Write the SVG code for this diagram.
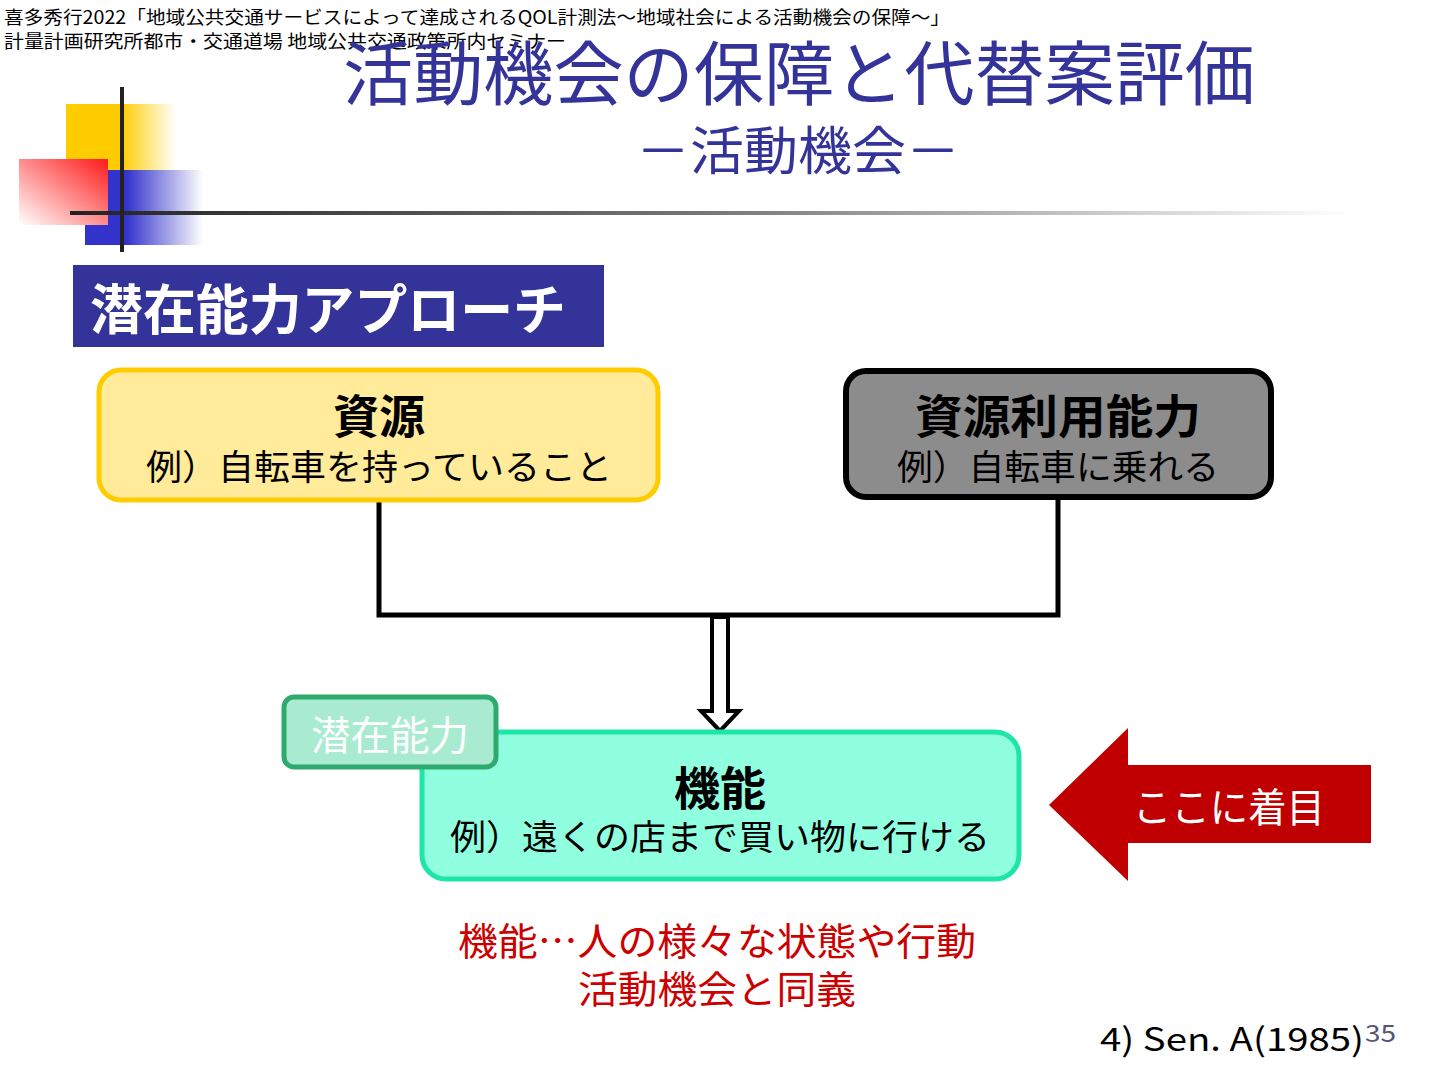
<svg xmlns="http://www.w3.org/2000/svg" width="1440" height="1080" viewBox="0 0 1440 1080">
<defs>
<style>
text{font-family:"Noto Sans CJK JP","Noto Sans",sans-serif}
.hdr{font-size:18px;fill:#000}
.title{fill:#333399}
.bold{font-weight:bold}
.sub{font-size:35px;fill:#000}
.red{font-size:38px;fill:#CC0000}
.conn{fill:none;stroke:#000;stroke-width:5}
</style>
<linearGradient id="gY" x1="0" y1="0" x2="1" y2="0"><stop offset="0.5" stop-color="#FFCC00"/><stop offset="1" stop-color="#FFCC00" stop-opacity="0"/></linearGradient>
<linearGradient id="gB" x1="0" y1="0" x2="1" y2="0"><stop offset="0.35" stop-color="#3333CC"/><stop offset="1" stop-color="#3333CC" stop-opacity="0"/></linearGradient>
<linearGradient id="gR" x1="1" y1="0" x2="0" y2="1"><stop offset="0" stop-color="#FF1A1A"/><stop offset="1" stop-color="#FFFFFF"/></linearGradient>
<linearGradient id="gL" x1="0" y1="0" x2="1" y2="0"><stop offset="0" stop-color="#222"/><stop offset="0.5" stop-color="#777"/><stop offset="1" stop-color="#fff"/></linearGradient>
</defs>
<rect width="1440" height="1080" fill="#fff"/>
<g id="header">
<text class="hdr" x="4" y="24" textLength="946" lengthAdjust="spacingAndGlyphs">喜多秀行2022「地域公共交通サービスによって達成されるQOL計測法～地域社会による活動機会の保障～」</text>
<text class="hdr" x="4" y="48" textLength="562" lengthAdjust="spacingAndGlyphs">計量計画研究所都市・交通道場 地域公共交通政策所内セミナー</text>
</g>
<g id="logo">
<rect x="66" y="104" width="110" height="66" fill="url(#gY)"/>
<rect x="85" y="170" width="118" height="75" fill="url(#gB)"/>
<rect x="19" y="159" width="89" height="66" fill="url(#gR)"/>
<rect x="70" y="211" width="1280" height="4" fill="url(#gL)"/>
<rect x="120" y="87" width="4" height="165" fill="#222"/>
</g>
<g id="title">
<text class="title" x="799" y="100" font-size="70" text-anchor="middle" textLength="912" lengthAdjust="spacingAndGlyphs">活動機会の保障と代替案評価</text>
<text class="title" x="798" y="170" font-size="52" text-anchor="middle" textLength="324" lengthAdjust="spacingAndGlyphs">－活動機会－</text>
</g>
<g id="section">
<rect x="73" y="265" width="531" height="82" fill="#333399"/>
<text x="90" y="330" font-size="54" fill="#fff" font-weight="bold" textLength="476" lengthAdjust="spacingAndGlyphs">潜在能力アプローチ</text>
</g>
<g id="connectors">
<polyline class="conn" points="379,501 379,615 1058,615 1058,498"/>
<polygon points="712,617 728,617 728,711 739,711 720,731 701,711 712,711" fill="#fff" stroke="#000" stroke-width="4"/>
</g>
<g id="node-resource">
<rect x="99" y="370" width="559" height="130" rx="22" fill="#FFEB99" stroke="#FFCC00" stroke-width="5"/>
<text x="379" y="433" font-size="46" text-anchor="middle" class="bold">資源</text>
<text class="sub" x="379" y="480" text-anchor="middle" textLength="466" lengthAdjust="spacingAndGlyphs">例）自転車を持っていること</text>
</g>
<g id="node-ability">
<rect x="846" y="371" width="425" height="126" rx="20" fill="#8C8C8C" stroke="#000" stroke-width="6"/>
<text x="1058" y="433" font-size="46" text-anchor="middle" class="bold" textLength="286" lengthAdjust="spacingAndGlyphs">資源利用能力</text>
<text class="sub" x="1058" y="480" text-anchor="middle" textLength="322" lengthAdjust="spacingAndGlyphs">例）自転車に乗れる</text>
</g>
<g id="node-function">
<rect x="422" y="732" width="597" height="147" rx="24" fill="#8FFFE0" stroke="#1EE6A8" stroke-width="5"/>
<text x="720" y="805" font-size="46" text-anchor="middle" class="bold">機能</text>
<text class="sub" x="720" y="850" text-anchor="middle" textLength="540" lengthAdjust="spacingAndGlyphs">例）遠くの店まで買い物に行ける</text>
</g>
<g id="tag-capability">
<rect x="284" y="697" width="212" height="70" rx="10" fill="#A8EBD0" stroke="#2EAA6E" stroke-width="5"/>
<text x="390" y="750" font-size="40" fill="#fff" text-anchor="middle" textLength="158" lengthAdjust="spacingAndGlyphs">潜在能力</text>
</g>
<g id="focus-arrow">
<polygon points="1049,805 1128,728 1128,765 1371,765 1371,843 1128,843 1128,881" fill="#C00000"/>
<text x="1229" y="822" font-size="40" fill="#fff" text-anchor="middle" textLength="192" lengthAdjust="spacingAndGlyphs">ここに着目</text>
</g>
<g id="note">
<text class="red" x="717" y="955" text-anchor="middle" textLength="518" lengthAdjust="spacingAndGlyphs">機能…人の様々な状態や行動</text>
<text class="red" x="717" y="1003" text-anchor="middle" textLength="278" lengthAdjust="spacingAndGlyphs">活動機会と同義</text>
</g>
<g id="footer">
<text x="1100" y="1051" font-size="32" fill="#000" textLength="264" lengthAdjust="spacingAndGlyphs">4) Sen. A(1985)</text>
<text x="1365" y="1042" font-size="24" fill="#555577" textLength="31" lengthAdjust="spacingAndGlyphs">35</text>
</g>
</svg>
